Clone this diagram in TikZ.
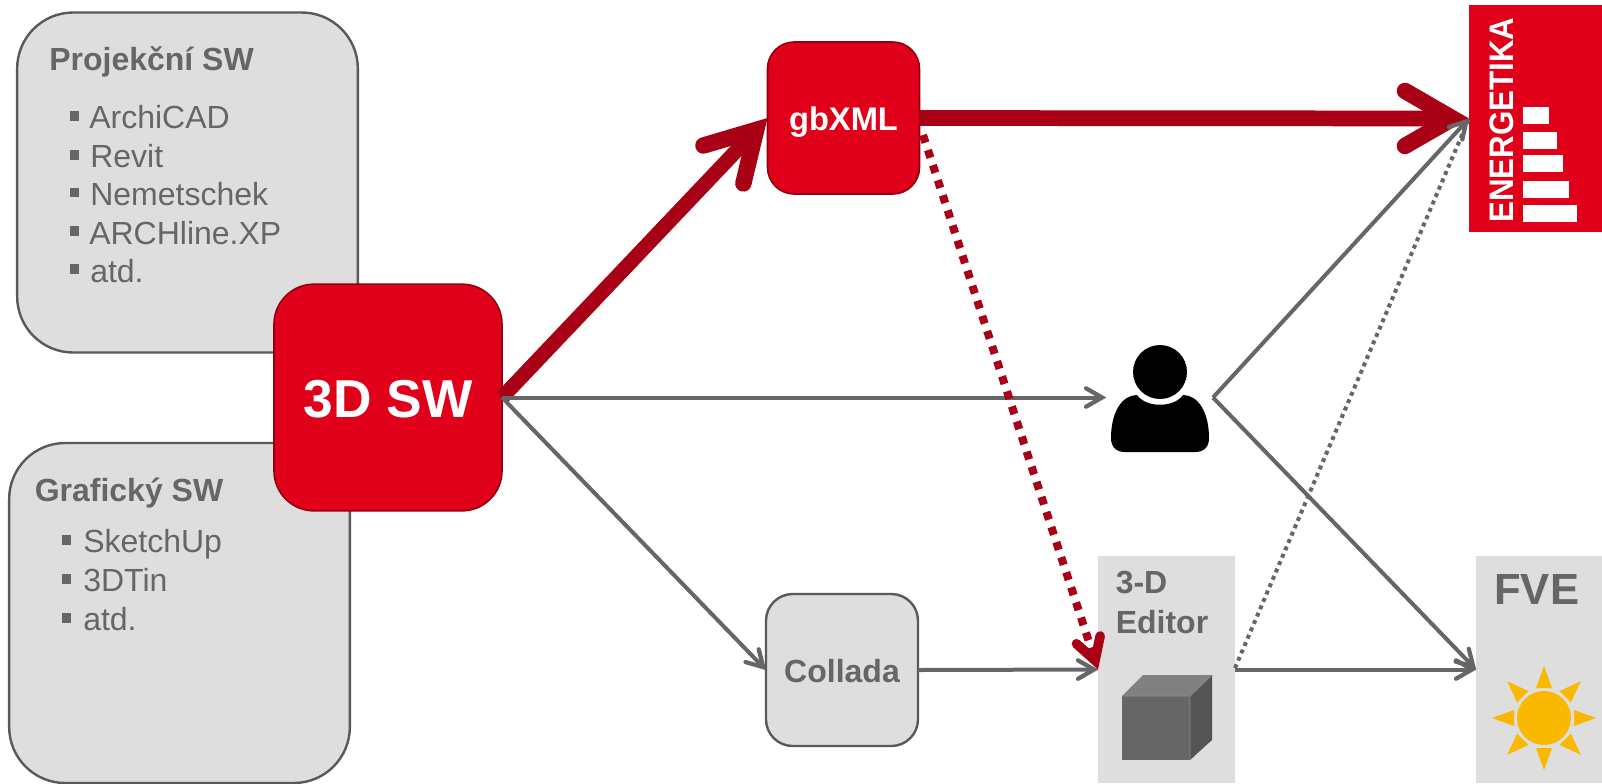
\documentclass[tikz,border=0pt]{standalone}
\usepackage{fontspec}
\setmainfont{Liberation Sans}
\usetikzlibrary{calc}
\definecolor{brandred}{HTML}{E1001A}
\definecolor{darkred}{HTML}{A80014}
\definecolor{txtgray}{HTML}{666666}
\definecolor{boxgray}{HTML}{DEDEDE}
\definecolor{edgegray}{HTML}{595959}
\definecolor{sun}{HTML}{FBB800}
\tikzset{
  softbox/.style={draw=edgegray,fill=boxgray,line width=1.8pt,rounded corners=42pt,minimum width=255.5pt,minimum height=255pt,inner sep=0pt,outer sep=0pt},
  redbox/.style={draw=darkred!85!black,fill=brandred,line width=1.2pt,inner sep=0pt,outer sep=0pt,text=white,font=\bfseries},
  graybox/.style={fill=boxgray,inner sep=0pt,outer sep=0pt,minimum width=102.75pt,minimum height=170.25pt},
  title/.style={anchor=base west,inner sep=0pt,text=txtgray,font=\fontsize{24}{28}\selectfont\bfseries},
  item/.style={anchor=base west,inner sep=0pt,text=txtgray,font=\fontsize{24}{28}\selectfont},
  bul/.style={fill=txtgray,draw=none,inner sep=0pt,minimum size=7.4pt,outer sep=0pt},
  barbtip/.style={line cap=round,line join=miter,miter limit=10},
  redshaft/.style={draw=darkred,line width=11.8pt},
  redbarb/.style={draw=darkred,line width=12.3pt,barbtip},
  grayshaft/.style={draw=txtgray,line width=3pt},
  graybarb/.style={draw=txtgray,line width=3.2pt,barbtip},
  reddots/.style={draw=darkred,line width=6pt,dash pattern=on 6pt off 5.9pt},
  dotbarb/.style={draw=darkred,line width=7.2pt,barbtip},
  graydots/.style={draw=txtgray,line width=3pt,dash pattern=on 3pt off 3pt},
  ray/.style={fill=sun,draw=none},
}
% #1 shaft style, #2 barb style, #3 from, #4 tip, #5 tip-to-vertex distance, #6 barb length
\newcommand{\barbline}[6]{%
  \draw[#1] (#3) -- ($(#4)!#5!(#3)$);
  \path ($(#4)!#5!(#3)$) coordinate (barbV);
  \draw[#2] ($(barbV)!#6!30:(#3)$) -- (barbV) -- ($(barbV)!#6!-30:(#3)$);
}
\begin{document}
\begin{tikzpicture}[x=0.75pt,y=-0.75pt]
\useasboundingbox (0,0) rectangle (1602,783);

% left boxes
\node[softbox] (proj) at (187.5,182.5) {};
\node[softbox] (graf) at (179.5,613) {};
\node[title] (projT) at (49,70) {Projekční SW};
\node[item] (p1) at (89,128) {ArchiCAD};
\node[item] (p2) at (90,167) {Revit};
\node[item] (p3) at (90,205) {Nemetschek};
\node[item] (p4) at (89,244) {ARCHline.XP};
\node[item] (p5) at (90,282) {atd.};
\node[bul] (b1) at (74.5,116) {};
\node[bul] (b2) at (74.5,155) {};
\node[bul] (b3) at (74.5,192.5) {};
\node[bul] (b4) at (74.5,231) {};
\node[bul] (b5) at (74.5,269) {};
\node[title] (grafT) at (34.5,501) {Grafický SW};
\node[item] (g1) at (83,552) {SketchUp};
\node[item] (g2) at (83,591) {3DTin};
\node[item] (g3) at (83,630) {atd.};
\node[bul] (c1) at (66.5,540) {};
\node[bul] (c2) at (66.5,579) {};
\node[bul] (c3) at (66.5,618) {};

% editor and FVE panels
\node[graybox] (edit) at (1166.5,669.5) {};
\node[graybox,minimum width=94.5pt] (fve) at (1539,669.5) {};
\node[title] (e1) at (1115.5,593) {3-D};
\node[title] (e2) at (1115.5,633) {Editor};
\node[title,font=\fontsize{32.7}{36}\selectfont\bfseries] (fveT) at (1494,604) {FVE};

% centre boxes
\node[redbox,font=\fontsize{40}{44}\selectfont\bfseries,rounded corners=30pt,minimum width=171pt,minimum height=170pt,text height=30pt,text depth=0pt] (sw) at (388,397.5) {3D SW};
\node[redbox,font=\fontsize{24.5}{28}\selectfont\bfseries,rounded corners=20pt,minimum width=114pt,minimum height=114pt,text height=19pt,text depth=0pt] (gb) at (843.5,118) {gbXML};
\node[draw=edgegray,fill=boxgray,line width=1.8pt,rounded corners=20pt,minimum width=114pt,minimum height=114pt,inner sep=0pt,outer sep=0pt,text=txtgray,font=\fontsize{24}{28}\selectfont\bfseries,text height=18.8pt,text depth=0pt] (col) at (842,670) {Collada};

% energetika
\node[fill=brandred,inner sep=0pt,outer sep=0pt,minimum width=99.75pt,minimum height=170.25pt] (en) at (1535.5,118.5) {};
\node[rotate=90,inner sep=0pt,text=white,font=\fontsize{25.5}{28}\selectfont\bfseries] (enT) at (1502,120) {\scalebox{0.92}[1]{ENERGETIKA}};
\fill[white] (1523,204.5) rectangle (1577,222);
\fill[white] (1523,181) rectangle (1569,198);
\fill[white] (1523,155) rectangle (1563,172);
\fill[white] (1523,132) rectangle (1557,148.5);
\fill[white] (1523,107) rectangle (1549,124);

% person
\fill[black] (1160,372) circle (20.25pt);
\fill[black] (1137,395) .. controls (1146,408) and (1174,408) .. (1183,395)
  .. controls (1198,395) and (1209,412) .. (1209,438)
  .. controls (1209,447) and (1204,452) .. (1195,452) -- (1125,452)
  .. controls (1116,452) and (1111,447) .. (1111,438)
  .. controls (1111,412) and (1122,395) .. (1137,395) -- cycle;

% cube
\fill[txtgray] (1122,696) rectangle (1190,760);
\fill[black!50] (1122,696) -- (1143,675) -- (1212,675) -- (1190,696) -- cycle;
\fill[black!67] (1190,696) -- (1212,675) -- (1212,740) -- (1190,760) -- cycle;
\draw[black!45,line width=0.5pt] (1190,696) -- (1190,760) (1122,696) -- (1190,696) -- (1212,675);

% sun
\fill[sun] (1544,718) circle (20.25pt);
\foreach \a in {0,45,...,315}{
  \fill[ray,rotate around={\a:(1544,718)}] (1544,666) -- (1552,688) -- (1536,688) -- cycle;
}

% connectors
\coordinate (pIn) at (1106,397.5);
\coordinate (pOut) at (1213,397.5);
\coordinate (dotStart) at (923,135);
\coordinate (edTop) at (1235,668);
\draw[graydots] (edTop) -- (en.west);
\barbline{redshaft}{redbarb}{gb.east}{en.west}{12.3pt}{41.3pt}
\barbline{redshaft,line width=11pt}{redbarb}{sw.east}{gb.west}{12.3pt}{41.3pt}
\barbline{grayshaft}{graybarb}{sw.east}{pIn}{3pt}{13.8pt}
\barbline{grayshaft}{graybarb}{sw.east}{col.west}{3pt}{13.8pt}
\barbline{grayshaft}{graybarb}{col.east}{edit.west}{3pt}{13.8pt}
\barbline{grayshaft}{graybarb}{edit.east}{fve.west}{3pt}{13.8pt}
\barbline{grayshaft}{graybarb}{pOut}{en.west}{3pt}{13.8pt}
\barbline{grayshaft}{graybarb}{pOut}{fve.west}{3pt}{13.8pt}
\barbline{reddots}{dotbarb}{dotStart}{edit.west}{7.2pt}{18.7pt}
\end{tikzpicture}
\end{document}
